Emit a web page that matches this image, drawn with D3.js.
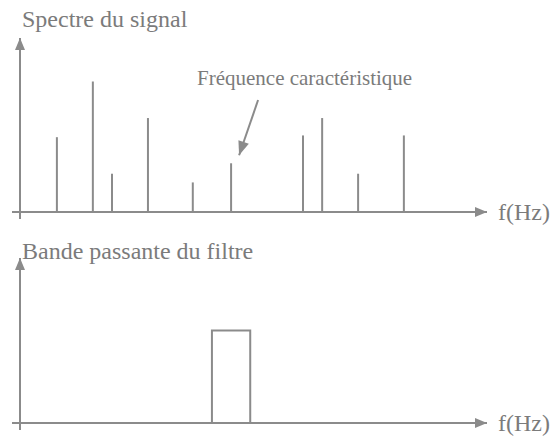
<!DOCTYPE html>
<html>
<head>
<meta charset="utf-8">
<script src="https://cdn.jsdelivr.net/npm/d3@7/dist/d3.min.js"></script>
<style>
  html, body { margin: 0; padding: 0; background: #fff; }
  svg { display: block; }
</style>
</head>
<body>
<svg id="chart" width="552" height="444"></svg>
<script>
// Spectral lines of the signal (frequency in arbitrary units, amplitude in %)
const lineFreqs = [7.9, 15.6, 19.7, 27.4, 37.0, 45.2, 60.6, 64.7, 72.4, 82.2];
const lineAmps  = [43, 75, 22, 54, 17, 28, 44, 54, 22, 44];

// Index of the characteristic frequency pointed to by the annotation
const characteristicIndex = 5;

// Pass band of the filter: [low cut, high cut] and gain (%)
const bandEdges = [41.1, 49.3];
const bandGain = [56];

// Text labels
const titles = ["Spectre du signal", "Bande passante du filtre"];
const axisLabels = ["f(Hz)", "f(Hz)"];
const annotationLabel = ["Fréquence caractéristique"];

const svg = d3.select("#chart");
const ink = "#8b8b8b";
const textInk = "#7b7b7b";
const serif = '"Liberation Serif", "Times New Roman", serif';

function label(g, x, y, size, str) {
  return g.append("text")
    .attr("x", x).attr("y", y)
    .attr("font-size", size)
    .attr("fill", textInk)
    .style("font-family", serif)
    .text(str);
}

// Arrowhead markers
const defs = svg.append("defs");
defs.append("marker")
  .attr("id", "axisHead")
  .attr("viewBox", "0 0 12 10")
  .attr("refX", 12).attr("refY", 5)
  .attr("markerUnits", "userSpaceOnUse")
  .attr("markerWidth", 13).attr("markerHeight", 10)
  .attr("orient", "auto")
  .append("path").attr("d", "M0,0 L12,5 L0,10 Z").attr("fill", ink);
defs.append("marker")
  .attr("id", "noteHead")
  .attr("viewBox", "0 0 14 11")
  .attr("refX", 14).attr("refY", 5.5)
  .attr("markerUnits", "userSpaceOnUse")
  .attr("markerWidth", 15).attr("markerHeight", 11)
  .attr("orient", "auto")
  .append("path").attr("d", "M0,0 L14,5.5 L0,11 Z").attr("fill", ink);

// Shared frequency scale
const x = d3.scaleLinear().domain([0, 100]).range([20, 487]);

// Panel layouts
const panels = [
  { yBase: 212, yTop: 38 },
  { yBase: 423, yTop: 258 }
];
const yTop = d3.scaleLinear().domain([0, 100]).range([panels[0].yBase, panels[0].yTop]);
const yBot = d3.scaleLinear().domain([0, 100]).range([panels[1].yBase, panels[1].yTop]);

function drawAxes(g, p, axisLabel) {
  // vertical axis
  g.append("line")
    .attr("x1", x(0)).attr("y1", p.yBase + 7)
    .attr("x2", x(0)).attr("y2", p.yTop)
    .attr("stroke", ink).attr("stroke-width", 2)
    .attr("marker-end", "url(#axisHead)");
  // horizontal axis
  g.append("line")
    .attr("x1", x(0) - 8).attr("y1", p.yBase)
    .attr("x2", x(100)).attr("y2", p.yBase)
    .attr("stroke", ink).attr("stroke-width", 2)
    .attr("marker-end", "url(#axisHead)");
  label(g, x(100) + 11, p.yBase + 8, 24, axisLabel);
}

// ---- Top panel: signal spectrum ----
const gTop = svg.append("g");
label(gTop, 22, 27, 24, titles[0]);
drawAxes(gTop, panels[0], axisLabels[0]);

gTop.selectAll("line.spec")
  .data(lineFreqs.map((f, i) => ({ f, a: lineAmps[i] })))
  .join("line")
  .attr("class", "spec")
  .attr("x1", d => x(d.f)).attr("x2", d => x(d.f))
  .attr("y1", yTop(0)).attr("y2", d => yTop(d.a))
  .attr("stroke", ink).attr("stroke-width", 2);

// Annotation for the characteristic frequency
const cf = lineFreqs[characteristicIndex];
label(gTop, 197, 85, 21, annotationLabel[0]);
gTop.append("line")
  .attr("x1", x(cf) + 27).attr("y1", 100)
  .attr("x2", x(cf) + 8).attr("y2", yTop(lineAmps[characteristicIndex]) - 8)
  .attr("stroke", ink).attr("stroke-width", 2)
  .attr("marker-end", "url(#noteHead)");

// ---- Bottom panel: filter pass band ----
const gBot = svg.append("g");
label(gBot, 22, 259, 24, titles[1]);
drawAxes(gBot, panels[1], axisLabels[1]);

const band = d3.line().x(d => x(d[0])).y(d => yBot(d[1]));
gBot.append("path")
  .attr("d", band([[bandEdges[0], 0], [bandEdges[0], bandGain[0]], [bandEdges[1], bandGain[0]], [bandEdges[1], 0]]))
  .attr("fill", "none").attr("stroke", ink).attr("stroke-width", 2);
</script>
</body>
</html>
